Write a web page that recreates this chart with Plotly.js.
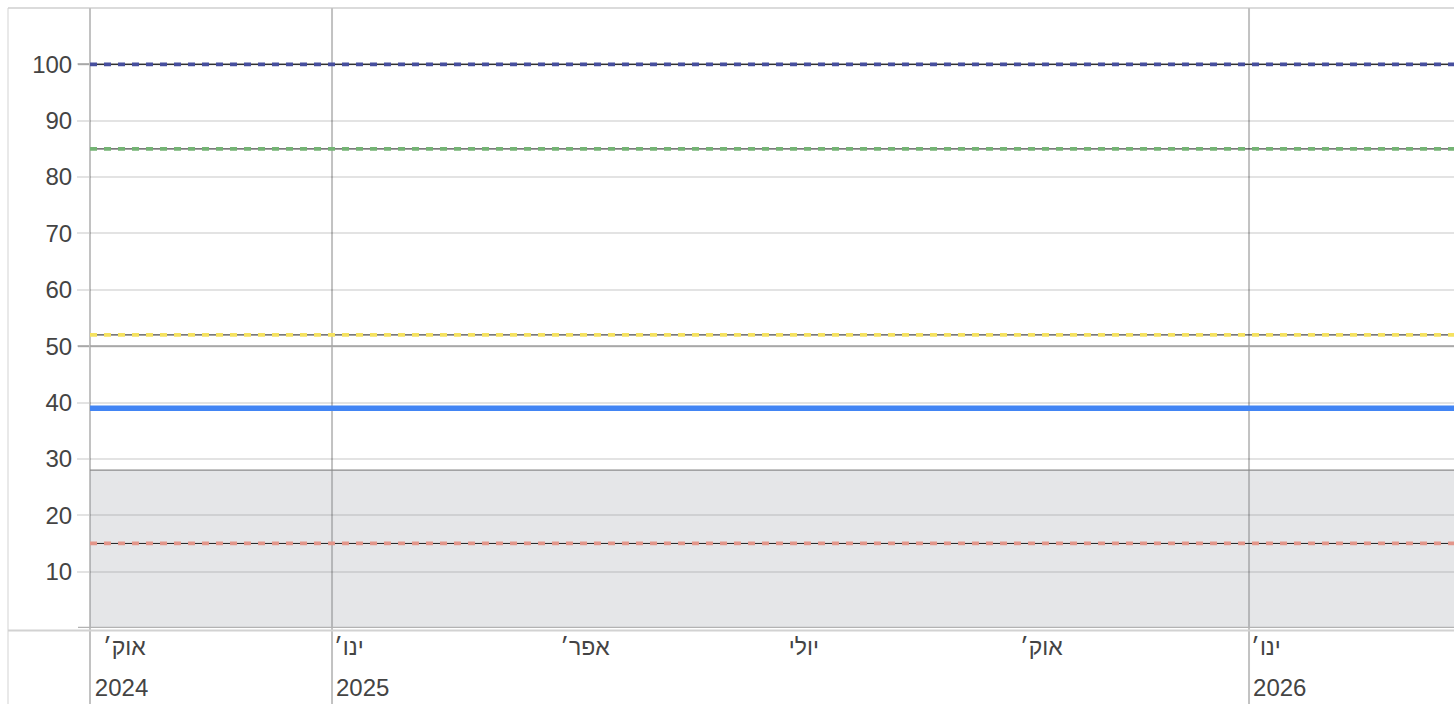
<!DOCTYPE html>
<html>
<head>
<meta charset="utf-8">
<script src="https://cdn.plot.ly/plotly-3.0.1.min.js"></script>
<style>
  html, body { margin: 0; padding: 0; background: #fff; }
  #chart { width: 1454px; height: 704px; }
</style>
</head>
<body>
<div id="chart"></div>
<script>
// ---- data ----
const xSpan = ['2024-09-26 16:00', '2026-03-23 14:00'];
const monthTickVals = ['2024-10-01', '2025-01-01', '2025-04-01', '2025-07-01', '2025-10-01', '2026-01-01'];
const monthTickText = ['אוק׳', 'ינו׳', 'אפר׳', 'יולי', 'אוק׳', 'ינו׳'];
const yearTickVals = ['2024-09-27', '2025-01-01', '2026-01-01'];
const yearTickText = ['2024', '2025', '2026'];
const yearLines = ['2025-01-01', '2026-01-01'];
const yTickVals = [10, 20, 30, 40, 50, 60, 70, 80, 90, 100];
const majorGrid = [50, 100];
const bandTop = 28;
const dashedNames = ['navy', 'green', 'yellow', 'red'];
const dashedValues = [100, 85, 52, 15];
const dashedColors = ['#474f9e', '#74b474', '#f5e260', '#e3968a'];
const solidValue = 39;
const solidColor = '#4285f4';

// ---- traces ----
const traces = [];
traces.push({
  x: xSpan, y: [bandTop, bandTop], type: 'scatter', mode: 'lines',
  fill: 'tozeroy', fillcolor: 'rgba(137,141,150,0.22)',
  line: { color: '#8a8a8a', width: 1.2 }, hoverinfo: 'skip', showlegend: false
});
dashedValues.forEach((v, i) => {
  traces.push({
    x: xSpan, y: [v, v], type: 'scatter', mode: 'lines', name: dashedNames[i] + '-base',
    line: { color: '#1e1e1e', width: 1 }, showlegend: false, hoverinfo: 'skip'
  });
  traces.push({
    x: xSpan, y: [v, v], type: 'scatter', mode: 'lines', name: dashedNames[i],
    line: { color: dashedColors[i], width: 3.8, dash: '7px,7px' }, showlegend: false
  });
});
traces.push({
  x: xSpan, y: [solidValue, solidValue], type: 'scatter', mode: 'lines',
  line: { color: solidColor, width: 5.5 }, showlegend: false
});
// helper trace to keep year axis alive
traces.push({ x: xSpan, y: [null, null], xaxis: 'x2', yaxis: 'y', type: 'scatter', mode: 'lines', showlegend: false, hoverinfo: 'skip' });

// ---- shapes ----
const W = 1364, H = 620;
const shapes = [];
shapes.push({ type: 'line', xref: 'paper', yref: 'paper', x0: -82 / W, x1: -82 / W, y0: -76 / H, y1: 1, line: { color: '#e2e2e2', width: 1.5 }, layer: 'below' });
shapes.push({ type: 'line', xref: 'paper', yref: 'paper', x0: -82 / W, x1: 1, y0: 1, y1: 1, line: { color: '#cfcfcf', width: 1.5 }, layer: 'below' });
shapes.push({ type: 'line', xref: 'paper', yref: 'paper', x0: 0, x1: 0, y0: -76 / H, y1: 1, line: { color: '#c2c2c2', width: 2 }, layer: 'below' });
yearLines.forEach(d => {
  shapes.push({ type: 'line', xref: 'x', yref: 'paper', x0: d, x1: d, y0: -76 / H, y1: 1, line: { color: '#c2c2c2', width: 2 }, layer: 'below' });
});
majorGrid.forEach(v => {
  shapes.push({ type: 'line', xref: 'paper', yref: 'y', x0: -12 / W, x1: 1, y0: v, y1: v, line: { color: '#bdbdbd', width: 2 }, layer: 'below' });
});
shapes.push({ type: 'line', xref: 'paper', yref: 'paper', x0: -82 / W, x1: 1, y0: -2.5 / H, y1: -2.5 / H, line: { color: '#d2d2d2', width: 2 }, layer: 'above' });
shapes.push({ type: 'line', xref: 'paper', yref: 'y', x0: -12 / W, x1: 1, y0: 0, y1: 0, line: { color: '#b3b3b3', width: 2.5 }, layer: 'above' });

const font = { family: 'Arial, "Liberation Sans", sans-serif', size: 24, color: '#444444' };
const monthFont = { family: 'Arial, "Liberation Sans", sans-serif', size: 23, color: '#444444' };

const layout = {
  width: 1454, height: 704,
  margin: { l: 90, r: 0, t: 8, b: 76, pad: 0 },
  paper_bgcolor: '#ffffff', plot_bgcolor: 'rgba(0,0,0,0)',
  showlegend: false,
  font: font,
  xaxis: {
    type: 'date', range: xSpan, fixedrange: true,
    tickmode: 'array', tickvals: monthTickVals, ticktext: monthTickText,
    ticklabelposition: 'outside right', ticklabelstandoff: 3, ticklabelshift: 2,
    showgrid: false, zeroline: false, showline: false, ticks: '',
    tickfont: monthFont, automargin: false
  },
  xaxis2: {
    type: 'date', overlaying: 'x', matches: 'x', anchor: 'y', side: 'bottom', range: xSpan,
    tickmode: 'array', tickvals: yearTickVals, ticktext: yearTickText,
    ticklabelposition: 'outside right', ticklabelstandoff: 43, ticklabelshift: 4,
    showgrid: false, zeroline: false, showline: false, ticks: '',
    tickfont: font, automargin: false
  },
  yaxis: {
    range: [0, 110], fixedrange: true,
    tickmode: 'array', tickvals: yTickVals,
    ticks: 'outside', ticklen: 12, tickwidth: 2, tickcolor: 'rgba(0,0,0,0.11)',
    ticklabelstandoff: 0,
    showgrid: true, gridcolor: 'rgba(0,0,0,0.11)', gridwidth: 2,
    zeroline: false, showline: false,
    tickfont: font, automargin: false
  },
  shapes: shapes
};

Plotly.newPlot('chart', traces, layout, { displayModeBar: false, staticPlot: true });
</script>
</body>
</html>
